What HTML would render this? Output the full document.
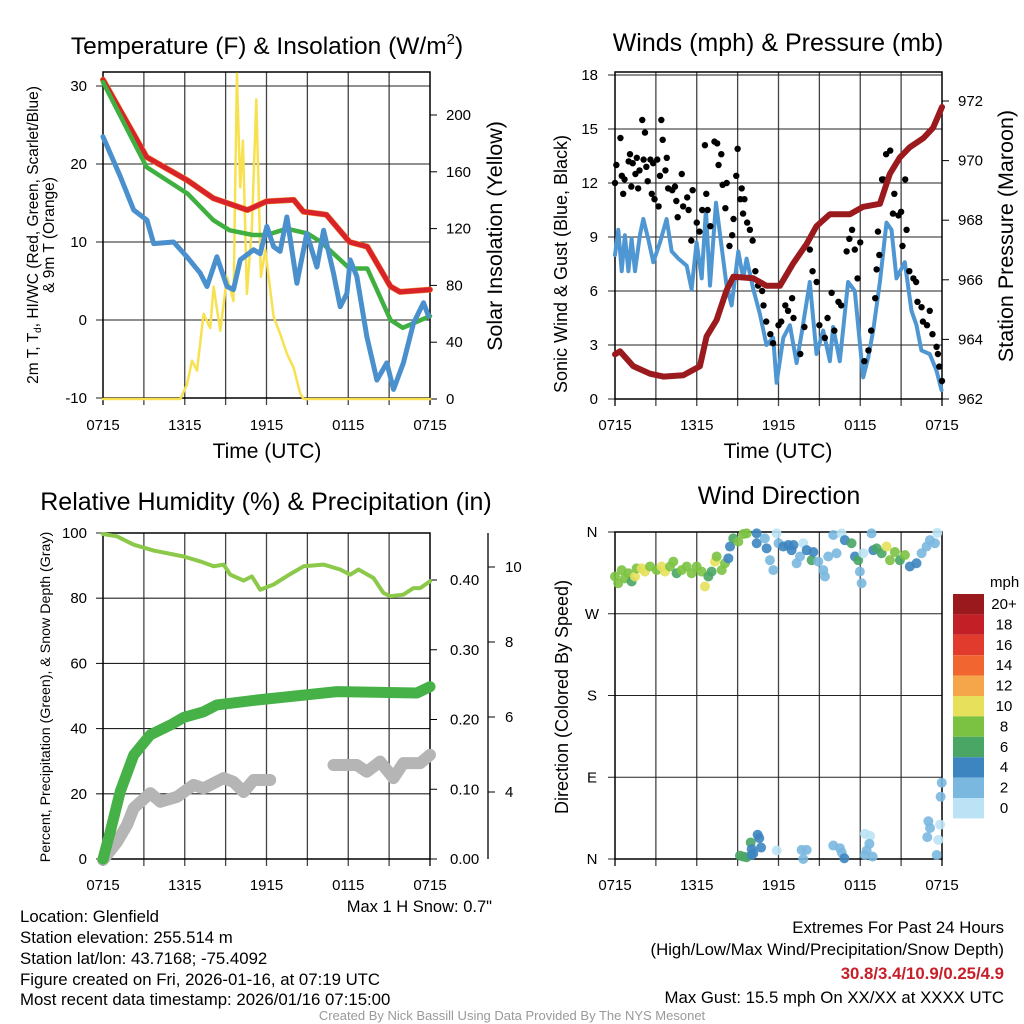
<!DOCTYPE html>
<html><head><meta charset="utf-8"><style>
html,body{margin:0;padding:0;background:#fff;}
svg{display:block;font-family:"Liberation Sans",Arial,sans-serif;}
</style></head><body>
<svg id="chart" width="1024" height="1024" viewBox="0 0 1024 1024" xmlns="http://www.w3.org/2000/svg">
<rect width="1024" height="1024" fill="#fff"/>
<g id="layer"></g>
<!-- titles -->
<text x="267" y="54" font-size="24.5" text-anchor="middle">Temperature (F) &amp; Insolation (W/m<tspan font-size="15" dy="-10">2</tspan><tspan dy="10">)</tspan></text>
<text x="778" y="51" font-size="25" text-anchor="middle">Winds (mph) &amp; Pressure (mb)</text>
<text x="266" y="510" font-size="25" text-anchor="middle">Relative Humidity (%) &amp; Precipitation (in)</text>
<text x="779" y="504" font-size="25" text-anchor="middle">Wind Direction</text>
<text x="267" y="458" font-size="21" text-anchor="middle">Time (UTC)</text>
<text x="778" y="458" font-size="21" text-anchor="middle">Time (UTC)</text>
<text transform="translate(38,235) rotate(-90)" font-size="15.5" text-anchor="middle">2m T, T<tspan font-size="10" dy="3">d</tspan><tspan dy="-3">, HI/WC (Red, Green, Scarlet/Blue)</tspan></text>
<text transform="translate(54,235) rotate(-90)" font-size="15.5" text-anchor="middle">&amp; 9m T (Orange)</text>
<text transform="translate(502,236) rotate(-90)" font-size="21.5" text-anchor="middle">Solar Insolation (Yellow)</text>
<text transform="translate(567,264) rotate(-90)" font-size="18" text-anchor="middle">Sonic Wind &amp; Gust (Blue, Black)</text>
<text transform="translate(1013,236) rotate(-90)" font-size="21.5" text-anchor="middle">Station Pressure (Maroon)</text>
<text transform="translate(50,697) rotate(-90)" font-size="14.2" text-anchor="middle">Percent, Precipitation (Green), &amp; Snow Depth (Gray)</text>
<text transform="translate(568,697) rotate(-90)" font-size="18" text-anchor="middle">Direction (Colored By Speed)</text>
<text x="492" y="912" font-size="16.5" text-anchor="end">Max 1 H Snow: 0.7"</text>
<text x="990" y="587" font-size="15">mph</text>
<g font-size="16.8">
<text x="20" y="922">Location: Glenfield</text>
<text x="20" y="943">Station elevation: 255.514 m</text>
<text x="20" y="964">Station lat/lon: 43.7168; -75.4092</text>
<text x="20" y="985">Figure created on Fri, 2026-01-16, at 07:19 UTC</text>
<text x="20" y="1005">Most recent data timestamp: 2026/01/16 07:15:00</text>
</g>
<g font-size="16.8" text-anchor="end">
<text x="1004" y="933">Extremes For Past 24 Hours</text>
<text x="1004" y="955">(High/Low/Max Wind/Precipitation/Snow Depth)</text>
<text x="1004" y="979" fill="#c8202a" font-weight="bold">30.8/3.4/10.9/0.25/4.9</text>
<text x="1004" y="1003">Max Gust: 15.5 mph On XX/XX at XXXX UTC</text>
</g>
<text x="512" y="1020" font-size="13" fill="#999" text-anchor="middle">Created By Nick Bassill Using Data Provided By The NYS Mesonet</text>
</svg>
<script>
// ---- data (hours since 0715 UTC) ----
const xTickLabels = ["0715","1315","1915","0115","0715"];
const tempHours = [0,3.2,6.2,8.1,10.6,12,14,14.7,16.4,18.1,19.4,21.1,21.8,24];
const tempVals = [30.8,20.9,17.9,15.6,14.1,15.2,15.4,13.9,13.5,10,9.4,4.3,3.6,3.9];
const heatHours = [0,3.2,6.2,8.1,9.3,11,12,13.5,15,16,18.1,19.4,21.1,22,24];
const heatVals = [30.5,19.6,16.2,12.8,11.5,10.9,10.9,11.7,11.1,10,6.6,6.6,0,-1,0.5];
const dewHours = [0,1.27,2.25,3.23,3.72,5.18,6.16,7.14,7.63,8.36,9.1,9.58,10.07,11.05,11.54,12.03,12.52,13.0,13.5,14.23,14.96,15.7,16.19,16.92,17.41,17.9,18.14,18.63,19.36,20.1,20.83,21.32,22.05,22.79,23.52,23.89];
const dewVals = [23.5,18.4,14.1,12.8,9.8,10,8.1,6,4.3,8.1,4.3,3.9,7.7,9,8.5,12,9.4,8.8,13.2,4.7,11.1,6.8,11.5,6,1.7,3.4,7.7,5.6,-2.1,-7.7,-5.5,-8.9,-5.5,-0.4,2.2,0.5];
const solarHours = [0,5.67,6.16,6.53,6.9,7.38,7.87,8.12,8.61,9.1,9.58,9.83,10.07,10.27,10.56,10.93,11.25,11.59,11.91,12.52,13.0,13.5,13.99,14.47,14.72,24];
const solarVals = [0,0,10,27,20,60,50,79,48,86,69,229,149,182,74,121,211,86,105,58,46,32,22,4,0,0];
const tempTicks = [-10,0,10,20,30];
const solarTicks = [0,40,80,120,160,200];

const windHours = [0,0.24,0.49,0.73,0.98,1.22,1.47,1.83,2.08,2.44,2.81,3.3,3.79,4.16,4.65,5.26,5.62,5.99,6.36,6.67,6.97,7.41,7.82,8.19,8.56,9.05,9.41,9.66,10.15,10.64,11.12,11.61,11.86,12.35,12.84,13.33,13.69,14.3,14.79,15.28,15.77,16.01,16.5,17.11,17.6,18.22,18.58,18.95,19.44,19.93,20.29,20.66,21.27,21.76,22.13,22.49,23.1,23.59,23.96];
const windVals = [8.0,9.4,7.1,9.1,7.1,8.9,7.1,9.1,10.0,8.9,7.6,8.7,10.0,8.2,7.8,7.4,6.1,8.7,6.7,10.5,6.3,10.9,8.5,6.3,5.2,8.2,6.7,7.8,6.1,4.7,3.0,3.4,0.9,3.4,4.1,2.0,3.6,6.5,2.5,3.8,2.1,4.0,2.1,6.5,6.0,1.2,2.3,3.8,6.5,9.8,9.4,6.7,7.6,4.9,4.1,2.7,2.5,1.6,0.5];
const gustHours = [0,0.1,0.4,0.5,0.6,0.7,1.0,1.1,1.2,1.3,1.5,1.6,1.7,1.8,2.0,2.1,2.2,2.3,2.4,2.6,2.7,2.8,2.9,3.1,3.2,3.3,3.4,3.5,3.7,3.8,3.9,4.2,4.4,4.5,4.6,4.9,5.0,5.3,5.4,5.6,5.7,6.0,6.2,6.4,6.6,6.7,6.8,7.0,7.3,7.5,7.6,7.8,7.9,8.1,8.2,8.4,8.6,8.7,8.9,9.0,9.2,9.3,9.4,9.5,9.7,9.9,10.1,10.3,10.5,10.8,10.9,11.1,11.4,11.6,12.0,12.2,12.5,12.7,13.0,13.1,13.6,13.9,14.3,14.5,14.8,15.0,15.4,15.6,15.9,16.1,16.4,16.6,17.0,17.2,17.4,17.6,17.8,18.0,18.3,18.6,18.8,19.1,19.2,19.3,19.4,19.6,19.7,19.9,20.2,20.4,20.5,20.8,21.0,21.1,21.3,21.4,21.6,21.9,22.1,22.2,22.5,22.6,22.9,23.1,23.3,23.6,23.7,23.8,24.0];
const gustVals = [12.0,13.0,14.5,12.4,11.4,12.2,13.2,13.6,11.8,13.1,12.5,13.4,11.7,12.7,15.5,13.3,14.8,12.9,12.1,13.3,11.4,13.1,11.1,13.3,10.7,12.4,15.5,14.4,12.7,13.4,11.7,11.6,11.8,11.0,10.1,12.5,10.7,11.2,10.5,8.8,11.6,9.8,9.3,10.5,14.1,11.4,10.5,9.6,14.3,14.2,13.0,13.6,11.9,10.6,12.0,8.5,9.1,10.0,12.4,13.9,11.1,11.7,10.3,11.1,9.8,9.4,8.8,7.1,6.3,6.0,5.2,4.3,3.6,3.1,4.1,4.3,5.2,4.9,5.6,4.5,2.5,4.0,8.3,7.1,6.5,4.1,3.4,4.5,5.9,3.8,5.4,5.2,8.2,8.9,9.4,8.3,6.7,8.7,2.1,2.7,3.8,5.6,7.2,9.3,8.0,12.2,12.2,13.6,13.8,10.3,11.4,10.2,10.4,8.5,12.2,9.4,7.1,6.7,6.5,5.4,5.1,4.3,4.1,4.9,3.6,2.9,2.5,1.8,1.0];
const presHours = [0,0.37,1.34,2.57,3.55,5.01,6.23,6.72,7.46,8.19,8.68,10.15,11.12,12.1,13.08,14.06,14.79,15.77,17.24,18.22,19.44,20.17,20.9,21.64,22.62,23.35,24];
const presVals = [963.5,963.6,963.1,962.85,962.75,962.8,963.1,964.1,964.65,965.65,966.1,966.05,965.8,965.8,966.55,967.2,967.8,968.2,968.2,968.45,968.55,969.55,970.1,970.45,970.75,971.1,971.8];
const windTicks = [0,3,6,9,12,15,18];
const presTicks = [962,964,966,968,970,972];

const rhHours = [0,1.03,2.25,3.72,5.92,7.14,8.12,8.85,9.34,10.32,10.93,11.54,12.52,13.74,14.72,16.19,17.41,18.14,18.75,19.85,20.59,21.08,22.05,22.79,23.28,24];
const rhVals = [99.7,99,96.4,94.6,92.8,91.3,89.8,90.3,87.2,85.4,86.7,82.6,84.2,87.4,89.8,90.3,88.8,87.2,88.8,86.2,81.6,80.6,81.1,83.1,83.1,85.2];
const precipHours = [0,0.54,1.27,2.25,3.47,4.94,5.92,7.38,8.36,11.3,14.72,17.17,23.03,24];
const precipVals = [0,0.04,0.097,0.149,0.178,0.192,0.203,0.211,0.221,0.228,0.235,0.24,0.238,0.247];
const snowHours = [0,1.03,1.76,2.25,3.47,4.21,5.43,6.65,7.38,8.85,9.58,10.32,11.05,12.27,null,16.92,18.63,19.36,20.34,21.32,22.05,23.28,24];
const snowVals = [2.19,2.67,3.12,3.57,3.97,3.74,3.87,4.19,4.1,4.37,4.27,4.0,4.32,4.32,null,4.72,4.72,4.54,4.81,4.37,4.77,4.77,4.99];
const rhTicks = [0,20,40,60,80,100];
const precipTicks = ["0.00","0.10","0.20","0.30","0.40"];
const snowTicks = [4,6,8,10];

const dirHours = [0,0.24,0.49,0.73,0.98,1.22,1.47,1.59,1.96,2.2,2.57,3.06,3.42,3.67,4.04,4.28,4.52,4.89,5.26,5.62,5.99,6.36,6.6,6.85,7.09,7.34,7.46,7.83,8.07,8.32,8.44,8.68,9.05,9.42,9.66,10.4,10.4,11.0,11.13,11.37,11.62,11.86,12.0,12.35,12.72,12.96,13.1,13.33,13.58,13.82,14.07,14.43,14.56,14.92,15.29,15.41,15.65,16.02,16.26,16.63,16.87,17.36,17.61,17.85,17.97,18.1,18.22,18.83,18.96,19.2,19.57,19.93,20.18,20.54,20.91,21.28,21.64,22.13,22.5,22.87,23.11,23.48,23.65,
 9.17,9.42,9.66,10.03,10.15,9.96,10.03,10.47,10.59,10.72,11.87,13.7,14.07,13.82,16.02,16.51,16.64,16.83,18.35,18.72,18.67,18.47,18.35,18.91,23.98,23.9,23.0,23.12,22.92,23.86,23.73,23.61];
const dirVals = [311,303.6,318,309,314.6,305.5,311,320,320,316.4,322,318,322,316.4,322,327.4,314.6,318,322,314.6,322,316.4,300,311,316.4,327.4,333,318,325.6,331,344,353,349.4,357.8,358.5,358.5,347.6,353,342,329,318,358.5,347.6,344,345.7,340,345.7,325.6,333,347.6,340,329,338,327.4,318,311,333,356.7,336.6,358.5,351,347.6,333,329,316.4,303.6,336.6,358.5,340,342,336.6,344,329,338,329,334.7,322,325.6,336.6,344,351,347.6,359,
 3.7,2.6,1.9,4.4,6.2,18.2,10.8,26.7,23.0,12.6,9.3,10.0,10.0,0,14.8,11.9,7.1,0.8,27.8,25.5,16.7,9.3,4.4,2.6,84,68.5,41.5,34.1,24.1,37.8,21.1,4.4];
const dirSpeeds = [8,8,8,8,8,6,10,8,10,10,8,8,10,10,8,8,6,8,8,8,8,8,10,6,6,10,8,8,8,4,4,6,8,8,8,4,4,2,4,2,2,1,2,4,4,4,4,2,2,1,4,6,4,2,2,2,2,2,2,1,4,6,4,6,2,2,1,2,4,6,6,10,8,8,6,8,4,4,2,2,2,2,1,
 6,6,6,4,4,6,4,4,4,4,1,2,2,3,2,2,2,4,1,1,2,2,2,2,2,2,2,2,3,1,1,3];
const speedBins = ["20+","18","16","14","12","10","8","6","4","2","0"];
const dirTicks = ["N","E","S","W","N"];

// ---- helpers ----
const NS = "http://www.w3.org/2000/svg";
const layer = document.getElementById("layer");
function mk(tag, attrs, parent) {
  const e = document.createElementNS(NS, tag);
  for (const k in attrs) e.setAttribute(k, attrs[k]);
  (parent || layer).appendChild(e);
  return e;
}
function lin(d0, d1, r0, r1) { return v => r0 + (v - d0) * (r1 - r0) / (d1 - d0); }
function pathD(xs, ys, sx, sy) {
  let d = "", pen = false;
  for (let i = 0; i < xs.length; i++) {
    if (xs[i] === null || ys[i] === null) { pen = false; continue; }
    d += (pen ? "L" : "M") + sx(xs[i]).toFixed(1) + "," + sy(ys[i]).toFixed(1);
    pen = true;
  }
  return d;
}
function timeGrid(name, x0, x1, y0, y1, labY, hGridYs) {
  const g = mk("g", {});
  
  
  const sx = lin(0, 24, x0, x1);
  for (let h = 3; h < 24; h += 3) {
    mk("line", {x1: sx(h), x2: sx(h), y1: y0, y2: y1 + 7, stroke: "#444", "stroke-width": 1.3}, g);
  }
  hGridYs.forEach(y => mk("line", {x1: x0 - 7, x2: x1, y1: y, y2: y, stroke: "#222", "stroke-width": 1.1}, g));
  mk("rect", {x: x0, y: y0, width: x1 - x0, height: y1 - y0, fill: "none", stroke: "#000", "stroke-width": 1.5}, g);
  mk("line", {x1: x0, x2: x0, y1: y1, y2: y1 + 7, stroke: "#000", "stroke-width": 1.3}, g);
  mk("line", {x1: x1, x2: x1, y1: y1, y2: y1 + 7, stroke: "#000", "stroke-width": 1.3}, g);
  xTickLabels.forEach((t, i) => {
    const tx = mk("text", {x: sx(i * 6), y: labY, "font-size": 15, "text-anchor": "middle"});
    
    
    tx.textContent = t;
  });
  return sx;
}
function label(txt, x, y, anchor, name, size) {
  const t = mk("text", {x: x, y: y, "font-size": size || 15, "text-anchor": anchor});
  
  
  t.textContent = txt;
  return t;
}
function series(d, color, w, name, opacity) {
  const p = mk("path", {d: d, fill: "none", stroke: color, "stroke-width": w, "stroke-linejoin": "round", "stroke-linecap": "round", opacity: opacity || 1});
  
  
  return p;
}

// ---- Panel 1: temperature ----
{
  const X0 = 103, X1 = 430, Y0 = 72, Y1 = 398;
  const sy = lin(-10, 30, 398, 86);
  const sySolar = lin(0, 200, 399, 115);
  const sx = timeGrid("temperature", X0, X1, Y0, Y1, 430, tempTicks.map(sy));
  tempTicks.forEach(v => label(String(v), 87, sy(v) + 5, "end", "temperature-y-tick-label"));
  solarTicks.forEach(v => {
    mk("line", {x1: X1, x2: X1 + 7, y1: sySolar(v), y2: sySolar(v), stroke: "#000"});
    label(String(v), 446, sySolar(v) + 5, "start", "insolation-y-tick-label");
  });
  series(pathD(solarHours, solarVals, sx, sySolar), "#f8e150", 2.5, "insolation-line");
  series(pathD(tempHours, tempVals, sx, sy), "#f08a2a", 6, "9m-temperature-line");
  series(pathD(tempHours, tempVals, sx, sy), "#d9232a", 5, "temperature-line");
  series(pathD(heatHours, heatVals, sx, sy), "#3fb040", 4.5, "windchill-line");
  series(pathD(dewHours, dewVals, sx, sy), "#4a90cd", 5, "dewpoint-line");
}

// ---- Panel 2: winds & pressure ----
{
  const X0 = 615, X1 = 942, Y0 = 72, Y1 = 399;
  const sy = lin(0, 18, 399, 75);
  const syP = lin(962, 972, 399, 101);
  const sx = timeGrid("wind", X0, X1, Y0, Y1, 430, windTicks.map(sy));
  windTicks.forEach(v => label(String(v), 598, sy(v) + 5, "end", "wind-y-tick-label"));
  presTicks.forEach(v => {
    mk("line", {x1: X1, x2: X1 + 7, y1: syP(v), y2: syP(v), stroke: "#000"});
    label(String(v), 958, syP(v) + 5, "start", "pressure-y-tick-label");
  });
  series(pathD(windHours, windVals, sx, sy), "#4f97d2", 4, "sonic-wind-line");
  const gg = mk("g", {});
  
  
  gustHours.forEach((h, i) => {
    const c = mk("circle", {cx: sx(h), cy: sy(gustVals[i]), r: 3.2, fill: "#000"}, gg);
    
    
  });
  series(pathD(presHours, presVals, sx, syP), "#9a1a1e", 6, "pressure-line");
}

// ---- Panel 3: RH & precip ----
{
  const X0 = 103, X1 = 430, Y0 = 533, Y1 = 859;
  const sy = lin(0, 100, 859, 533);
  const syIn = lin(0, 0.4, 859, 580);
  const sySnow = lin(4, 10, 792, 567);
  const sx = timeGrid("humidity", X0, X1, Y0, Y1, 890, rhTicks.map(sy));
  rhTicks.forEach(v => label(String(v), 87, sy(v) + 5, "end", "humidity-y-tick-label"));
  precipTicks.forEach(t => {
    const v = parseFloat(t);
    mk("line", {x1: X1, x2: X1 + 7, y1: syIn(v), y2: syIn(v), stroke: "#000"});
    label(t, 450, syIn(v) + 5, "start", "precip-y-tick-label");
  });
  mk("line", {x1: 488, x2: 488, y1: 533, y2: 859, stroke: "#000", "stroke-width": 1.3});
  snowTicks.forEach(v => {
    mk("line", {x1: 488, x2: 495, y1: sySnow(v), y2: sySnow(v), stroke: "#000"});
    label(String(v), 505, sySnow(v) + 5, "start", "snow-y-tick-label");
  });
  series(pathD(snowHours, snowVals, sx, sySnow), "#b5b5b5", 12, "snow-depth-line");
  series(pathD(precipHours, precipVals, sx, syIn), "#45b146", 11, "precipitation-line");
  series(pathD(rhHours, rhVals, sx, sy), "#8cc94a", 4, "relative-humidity-line");
}

// ---- Panel 4: wind direction ----
{
  const X0 = 615, X1 = 942, Y0 = 532, Y1 = 859;
  const sy = lin(0, 360, 859, 532);
  const sx = timeGrid("direction", X0, X1, Y0, Y1, 890, [0, 90, 180, 270, 360].map(sy));
  dirTicks.forEach((t, i) => label(t, 592, sy(i * 90) + 5, "middle", "direction-y-tick-label"));
  const colors = ["#99191c","#c21f27","#e03b2c","#f06530","#f5a54a","#e6e05a","#7cc242","#4aa665","#3d85c0","#7ab8e0","#bce3f5"];
  function speedColor(s) {
    const idx = Math.max(0, Math.min(10, 10 - Math.floor(s / 2)));
    return colors[idx];
  }
  const gd = mk("g", {});
  
  
  dirHours.forEach((h, i) => {
    const c = mk("circle", {cx: sx(h), cy: sy(dirVals[i]), r: 5, fill: speedColor(dirSpeeds[i]), opacity: 0.9}, gd);
    
    
  });
  const cb = mk("g", {});
  
  
  speedBins.forEach((t, i) => {
    const y = 594 + i * 20.4;
    const r = mk("rect", {x: 953, y: y, width: 31, height: 20.4, fill: colors[i]}, cb);
    
    
    label(t, 1004, y + 15, "middle", "colorbar-label", 15);
  });
}
</script>
</body></html>
